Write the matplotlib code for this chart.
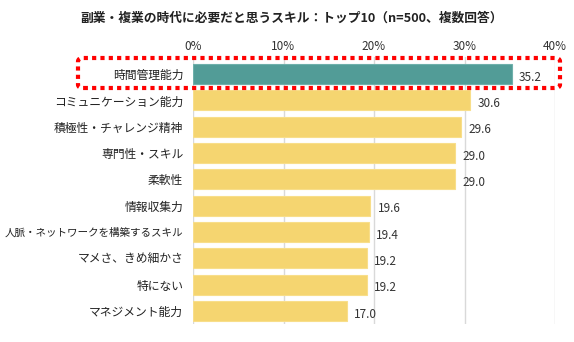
import matplotlib
matplotlib.use("Agg")
import matplotlib.pyplot as plt
from matplotlib.patches import FancyBboxPatch

plt.rcParams['font.family'] = ['Noto Sans CJK JP', 'DejaVu Sans']

title = "副業・複業の時代に必要だと思うスキル：トップ10（n=500、複数回答）"
categories = ["時間管理能力", "コミュニケーション能力", "積極性・チャレンジ精神", "専門性・スキル",
              "柔軟性", "情報収集力", "人脈・ネットワークを構築するスキル", "マメさ、きめ細かさ",
              "特にない", "マネジメント能力"]
values = [35.2, 30.6, 29.6, 29.0, 29.0, 19.6, 19.4, 19.2, 19.2, 17.0]
xticks = [0, 10, 20, 30, 40]
xticklabels = ["0%", "10%", "20%", "30%", "40%"]

W, H = 574, 342
fig = plt.figure(figsize=(W/100, H/100), dpi=100)
ax = fig.add_axes([193/W, 1-324/H, (555-193)/W, (324-57)/H])

colors = ["#529C97"] + ["#F5D570"] * (len(values) - 1)
edges = ["#6FB0AB"] + ["#F8DE8A"] * (len(values) - 1)
ys = list(range(len(values)))
ax.barh(ys, values, height=0.76, color=colors, edgecolor=edges, linewidth=0.8, zorder=3)
for y, v in zip(ys, values):
    ax.text(v + 0.8, y + 0.12, f"{v:.1f}", va="center", ha="left", fontsize=8.5, color="#333333")

ax.set_ylim(9.5, -0.65)
ax.set_xlim(0, 40)
ax.set_yticks(ys)
ax.set_yticklabels(categories, fontsize=8.5, color="#222222")
for lab in ax.get_yticklabels():
    if len(lab.get_text()) > 12:
        lab.set_fontsize(7.6)
ax.xaxis.tick_top()
ax.set_xticks(xticks)
ax.set_xticklabels(xticklabels, fontsize=8.5, color="#333333")
ax.tick_params(axis="both", length=0)
ax.tick_params(axis="x", pad=3)
ax.tick_params(axis="y", pad=7)
for s in ax.spines.values():
    s.set_visible(False)
ax.grid(axis="x", color="#D9D9D9", linewidth=1, zorder=0)
ax.set_axisbelow(True)

fig.text(292/W, 1-18/H, title, ha="center", va="center", fontsize=9.2, fontweight="bold", color="#222222")

box = FancyBboxPatch((78/W, 1-88/H), (560-78)/W, (88-58)/H,
                     boxstyle="round,pad=0,rounding_size=0.01",
                     transform=fig.transFigure, fill=False, edgecolor="#FF0000",
                     linestyle=(0, (1, 1)), linewidth=3, zorder=10)
fig.add_artist(box)

fig.savefig("out.png", dpi=100)
